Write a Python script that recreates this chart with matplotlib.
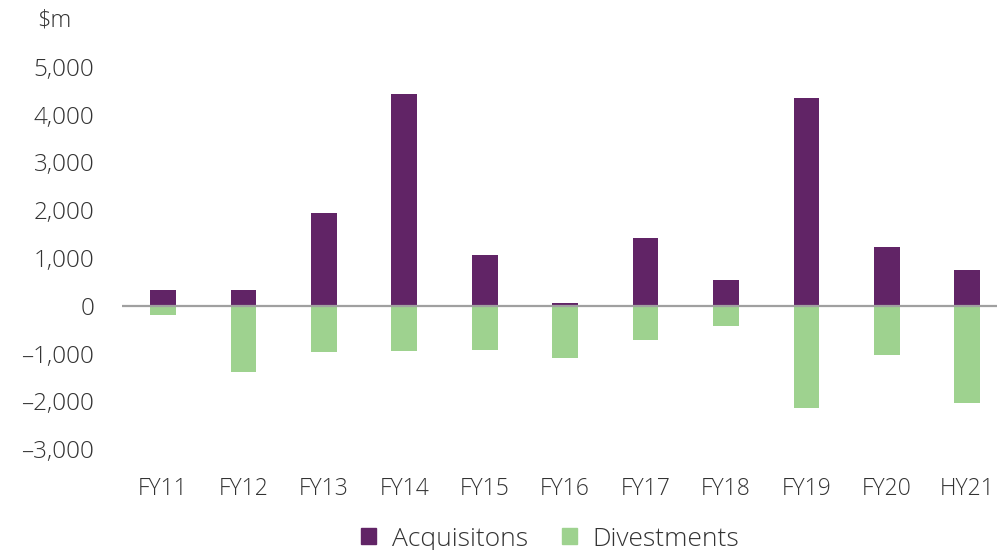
import matplotlib
matplotlib.use("Agg")
import matplotlib.pyplot as plt
import numpy as np
from matplotlib.patches import Patch
from matplotlib.ticker import FuncFormatter

# ── Data ──────────────────────────────────────────────────────────────────────
periods = ["FY11", "FY12", "FY13", "FY14", "FY15", "FY16",
           "FY17", "FY18", "FY19", "FY20", "HY21"]
acquisitions = [330, 320, 1950, 4440, 1070, 60, 1420, 545, 4350, 1235, 755]
divestments = [-185, -1380, -960, -950, -935, -1100, -710, -420, -2150, -1025, -2045]

PURPLE = "#612466"
GREEN = "#9ED28F"
TEXT = "#333333"

plt.rcParams["font.family"] = ["Open Sans", "DejaVu Sans"]
plt.rcParams["font.weight"] = "light"

fig = plt.figure(figsize=(9.97, 5.5), dpi=100)
ax = fig.add_axes([0.1224, 0.1836, 0.8776, 0.6946])

x = np.arange(len(periods))
ax.bar(x, acquisitions, width=0.32, color=PURPLE, zorder=2)
ax.bar(x, divestments, width=0.32, color=GREEN, zorder=2)
ax.axhline(0, color="#A0A0A0", linewidth=1.6, zorder=3)

ax.set_ylim(-3000, 5000)
ax.set_xlim(-0.51, 10.37)
ax.set_yticks(np.arange(-3000, 5001, 1000))
ax.yaxis.set_major_formatter(FuncFormatter(lambda v, _: f"{int(v):,}".replace("-", "\u2013")))
ax.set_xticks(x)
ax.set_xticklabels(periods)
ax.tick_params(axis="y", length=0, pad=20, labelsize=17.5, labelcolor=TEXT)
ax.tick_params(axis="x", length=0, pad=20, labelsize=16.5, labelcolor=TEXT)
for s in ax.spines.values():
    s.set_visible(False)

fig.text(0.037, 0.962, "$m", fontsize=17, color=TEXT, va="center", ha="left")

handles = [Patch(color=PURPLE, label="Acquisitons"),
           Patch(color=GREEN, label="Divestments")]
fig.legend(handles=handles, loc="center", bbox_to_anchor=(0.552, 0.020),
           ncol=2, frameon=False, fontsize=19, labelcolor=TEXT,
           handlelength=0.55, handleheight=0.55, handletextpad=0.6,
           columnspacing=1.3)

plt.savefig("out.png", dpi=100, facecolor="white")
plt.close()
